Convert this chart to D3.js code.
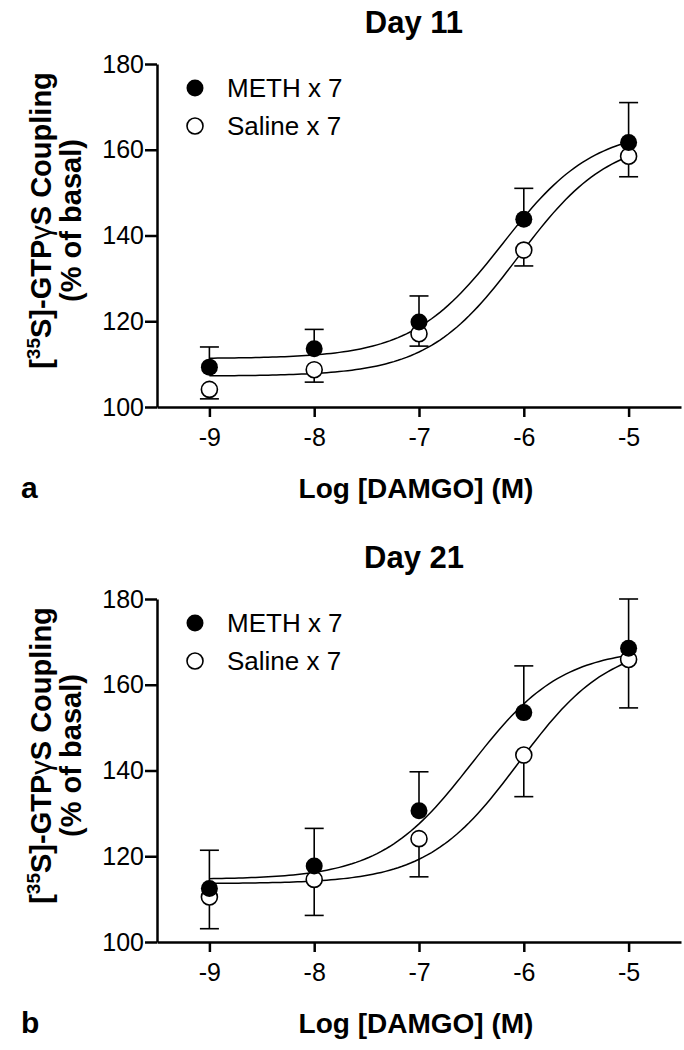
<!DOCTYPE html>
<html>
<head>
<meta charset="utf-8">
<script src="https://cdn.jsdelivr.net/npm/d3@7"></script>
<style>
  body { margin: 0; background: #fff; }
  text { font-family: "Liberation Sans", Arial, sans-serif; fill: #000; }
  .axis path, .axis line { stroke: #000; stroke-width: 2.5; }
  .axis text { font-size: 25px; }
  .fit { fill: none; stroke: #000; stroke-width: 1.5; }
  .err { stroke: #000; stroke-width: 1.6; }
</style>
</head>
<body>
<script>
const width = 684,
  height = 1050;

// log [DAMGO] (M)
const doses = [-9, -8, -7, -6, -5];
const xTicks = [-9, -8, -7, -6, -5];
const yTicks = [100, 120, 140, 160, 180];
const seriesNames = ["METH x 7", "Saline x 7"];
const panelTitles = ["Day 11", "Day 21"];
const panelLetters = ["a", "b"];

// Day 11
const day11Meth = [109.3, 113.6, 119.8, 143.8, 161.7];
const day11MethSem = [4.7, 4.5, 6.1, 7.2, 9.3];
const day11Saline = [104.1, 108.7, 117.1, 136.6, 158.5];
const day11SalineSem = [2.2, 2.9, 2.9, 3.7, 4.8];
// fitted curves: bottom, top, logEC50
const day11MethFit = [111.3, 165, -6.2];
const day11SalineFit = [107.2, 163, -6.05];

// Day 21
const day21Meth = [112.5, 117.7, 130.6, 153.5, 168.5];
const day21MethSem = [8.9, 8.8, 9.1, 10.9, 11.5];
const day21Saline = [110.5, 114.6, 124.1, 143.6, 165.9];
const day21SalineSem = [7.4, 8.4, 8.9, 9.7, 11.3];
const day21MethFit = [114.6, 168.5, -6.5];
const day21SalineFit = [113.6, 170, -6.05];

const panels = [
  {
    top: 64, bottom: 407,
    meth: day11Meth, methSem: day11MethSem, methFit: day11MethFit,
    saline: day11Saline, salineSem: day11SalineSem, salineFit: day11SalineFit,
  },
  {
    top: 599, bottom: 942,
    meth: day21Meth, methSem: day21MethSem, methFit: day21MethFit,
    saline: day21Saline, salineSem: day21SalineSem, salineFit: day21SalineFit,
  },
];

const svg = d3
  .select("body")
  .append("svg")
  .attr("width", width)
  .attr("height", height);

const x = d3.scaleLinear().domain([-9.5, -4.5]).range([157, 681]);
const r = 8,
  cap = 9.5;

const sigmoid = (p) => (lx) => p[0] + (p[1] - p[0]) / (1 + Math.pow(10, p[2] - lx));

panels.forEach((p, i) => {
  const y = d3.scaleLinear().domain([100, 180]).range([p.bottom, p.top]);
  const g = svg.append("g");

  // Title
  g.append("text")
    .attr("x", 414)
    .attr("y", p.top - 31)
    .attr("text-anchor", "middle")
    .style("font-size", "31px")
    .style("font-weight", "bold")
    .text(panelTitles[i]);

  // Axes
  g.append("g")
    .attr("class", "axis")
    .attr("transform", `translate(0,${p.bottom})`)
    .call(
      d3.axisBottom(x).tickValues(xTicks).tickFormat((d) => String(d))
        .tickSize(10).tickSizeOuter(0).tickPadding(10)
    )
    .call((a) => a.selectAll("text").attr("dy", "0.75em"));

  g.append("g")
    .attr("class", "axis")
    .attr("transform", `translate(${x.range()[0]},0)`)
    .call(d3.axisLeft(y).tickValues(yTicks).tickSize(12).tickSizeOuter(0).tickPadding(1));

  // Axis titles
  g.append("text")
    .attr("x", 416)
    .attr("y", p.bottom + 91)
    .attr("text-anchor", "middle")
    .style("font-size", "28px")
    .style("font-weight", "bold")
    .text("Log [DAMGO] (M)");

  const cy = (p.top + p.bottom) / 2 - 15;
  const yl = g
    .append("text")
    .attr("transform", `translate(51,${cy}) rotate(-90)`)
    .attr("text-anchor", "middle")
    .style("font-size", "29px")
    .style("font-weight", "bold");
  yl.append("tspan").text("[");
  yl.append("tspan").attr("dy", -11).style("font-size", "19px").text("35");
  yl.append("tspan").attr("dy", 11).text("S]-GTP");
  yl.append("tspan").style("font-weight", "normal").text("γ");
  yl.append("tspan").text("S Coupling");

  g.append("text")
    .attr("transform", `translate(81,${cy}) rotate(-90)`)
    .attr("text-anchor", "middle")
    .style("font-size", "29px")
    .style("font-weight", "bold")
    .text("(% of basal)");

  // Panel letter
  g.append("text")
    .attr("x", 21)
    .attr("y", p.bottom + 91)
    .style("font-size", "30px")
    .style("font-weight", "bold")
    .text(panelLetters[i]);

  // Fitted curves
  const line = d3.line().x((d) => x(d[0])).y((d) => y(d[1]));
  const xs = d3.range(-9, -4.999, 0.04);
  [p.methFit, p.salineFit].forEach((fit) => {
    const f = sigmoid(fit);
    g.append("path").attr("class", "fit").attr("d", line(xs.map((lx) => [lx, f(lx)])));
  });

  // Error bars: METH upward, Saline downward
  const bars = (vals, sem, dir) => {
    vals.forEach((v, j) => {
      const e = v + dir * sem[j];
      g.append("line").attr("class", "err")
        .attr("x1", x(doses[j])).attr("x2", x(doses[j]))
        .attr("y1", y(v)).attr("y2", y(e));
      g.append("line").attr("class", "err")
        .attr("x1", x(doses[j]) - cap).attr("x2", x(doses[j]) + cap)
        .attr("y1", y(e)).attr("y2", y(e));
    });
  };
  bars(p.meth, p.methSem, 1);
  bars(p.saline, p.salineSem, -1);

  // Markers
  g.selectAll(".saline")
    .data(p.saline)
    .join("circle")
    .attr("class", "saline")
    .attr("cx", (d, j) => x(doses[j]))
    .attr("cy", (d) => y(d))
    .attr("r", r)
    .attr("fill", "#fff")
    .attr("stroke", "#000")
    .attr("stroke-width", 1.6);

  g.selectAll(".meth")
    .data(p.meth)
    .join("circle")
    .attr("class", "meth")
    .attr("cx", (d, j) => x(doses[j]))
    .attr("cy", (d) => y(d))
    .attr("r", r + 0.5)
    .attr("fill", "#000");

  // Legend
  seriesNames.forEach((name, k) => {
    const ly = p.top + 24 + k * 38;
    g.append("circle")
      .attr("cx", 195)
      .attr("cy", ly)
      .attr("r", k === 0 ? r + 0.5 : r)
      .attr("fill", k === 0 ? "#000" : "#fff")
      .attr("stroke", "#000")
      .attr("stroke-width", k === 0 ? 0 : 1.6);
    g.append("text")
      .attr("x", 227)
      .attr("y", ly)
      .attr("dy", "0.36em")
      .style("font-size", "26px")
      .text(name);
  });
});
</script>
</body>
</html>
